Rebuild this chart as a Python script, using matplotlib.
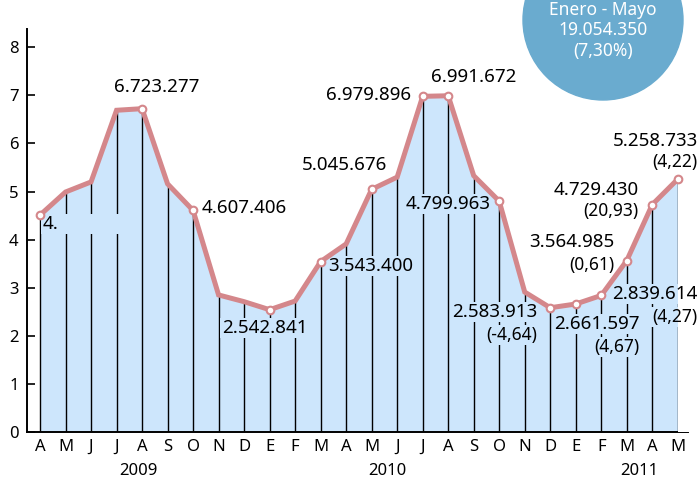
import matplotlib.pyplot as plt
from matplotlib.patches import Ellipse, Rectangle
from matplotlib.transforms import IdentityTransform

plt.rcParams['font.family'] = ['Noto Sans', 'DejaVu Sans']

# Datos (millones), abril 2009 - mayo 2011
meses = ['A', 'M', 'J', 'J', 'A', 'S', 'O', 'N', 'D', 'E', 'F', 'M', 'A',
         'M', 'J', 'J', 'A', 'S', 'O', 'N', 'D', 'E', 'F', 'M', 'A', 'M']
valores = [4.51, 4.99, 5.20, 6.69, 6.723277, 5.16, 4.607406, 2.85, 2.71,
           2.542841, 2.723, 3.5434, 3.911, 5.045676, 5.30, 6.979896,
           6.991672, 5.33, 4.799963, 2.91, 2.583913, 2.661597, 2.839614,
           3.564985, 4.72943, 5.258733]
anios = ['2009', '2010', '2011']
pos_anios = [3.85, 13.6, 23.5]
con_marcador = [0, 4, 6, 9, 11, 13, 15, 16, 18, 20, 21, 22, 23, 24, 25]
# texto de las etiquetas y porcentajes de 2011
etiquetas = {0: '4.', 4: '6.723.277', 6: '4.607.406', 9: '2.542.841',
             11: '3.543.400', 13: '5.045.676', 15: '6.979.896',
             16: '6.991.672', 18: '4.799.963', 20: '2.583.913',
             21: '2.661.597', 22: '2.839.614', 23: '3.564.985',
             24: '4.729.430', 25: '5.258.733'}
porcentajes = {20: '(-4,64)', 21: '(4,67)', 22: '(4,27)', 23: '(0,61)',
               24: '(20,93)', 25: '(4,22)'}
total_texto = ['Enero - Mayo', '19.054.350', '(7,30%)']

azul = '#cde6fc'
rosa = '#d4878b'

fig = plt.figure(figsize=(7, 4.8), dpi=100)
ax = fig.add_axes([27/700, 0.1, 661/700, 403/480])
ax.patch.set_alpha(0)

x = list(range(len(valores)))
ax.fill_between(x, 0, valores, color=azul, lw=0, zorder=1)
ax.vlines(x, 0, valores, color='black', lw=1.0, zorder=2)
# mascara blanca sobre la curva (para que las cajas no salgan del relleno)
ax.fill_between(x, valores, 8.38, color='white', lw=0, zorder=3.2)
ax.axvspan(x[-1], x[-1] + 1, color='white', lw=0, zorder=3.2, clip_on=False)
ax.plot(x, valores, color=rosa, lw=3.6, zorder=4, solid_joinstyle='miter')
ax.plot([x[i] for i in con_marcador], [valores[i] for i in con_marcador],
        ls='none', marker='o', ms=5.5, mfc='white', mec=rosa, mew=1.5, zorder=5)

textos = []


def etiqueta(i, txt, dx, dy, ha, fs, peso):
    t = ax.annotate(txt, (x[i], valores[i]), xytext=(dx, dy), textcoords='offset pixels',
                    ha=ha, va='center', fontsize=fs, fontweight=peso, zorder=3.5,
                    annotation_clip=False)
    textos.append((i, t))


# (dx, dy, ha) en pixeles respecto al punto
offs = {0: (3, -9, 'left'), 4: (15, 22, 'center'), 6: (9, 2, 'left'),
        9: (-5, -18, 'center'), 11: (8, -4, 'left'), 13: (-27, 24, 'center'),
        15: (-12, 1, 'right'), 16: (25, 19, 'center'), 18: (-9, -3, 'right'),
        20: (-13, -4, 'right'), 21: (64, -20, 'right'), 22: (96, 1, 'right'),
        23: (-12, 19, 'right'), 24: (-14, 15, 'right'), 25: (20, 38, 'right')}
for i, txt in etiquetas.items():
    dx, dy, ha = offs[i]
    etiqueta(i, txt, dx, dy, ha, 13.5, 'bold' if i == 25 else 'normal')
    if i in porcentajes:
        dy2 = dy - 23 if i not in (24, 25) else dy - 21
        etiqueta(i, porcentajes[i], dx, dy2, ha, 12.5, 'normal')

ax.set_xlim(-0.51, 25.4)
ax.set_ylim(0, 8.38)
ax.set_yticks(range(0, 9))
ax.set_xticks(x)
ax.set_xticklabels(meses)
ax.tick_params(axis='x', length=0, pad=5, labelsize=12)
ax.tick_params(axis='y', direction='in', length=6, width=1.2, pad=6, labelsize=12)
for s in ['top', 'right']:
    ax.spines[s].set_visible(False)
for s in ['left', 'bottom']:
    ax.spines[s].set_linewidth(1.4)

for a, p in zip(anios, pos_anios):
    ax.text(p, -0.098, a, transform=ax.get_xaxis_transform(), ha='center',
            va='center', fontsize=12)

# cajas azules detras de las etiquetas que cortan las lineas verticales
fig.canvas.draw()
for i, t in textos:
    bb = t.get_window_extent()
    w = bb.width if i != 0 else 77
    ax.add_patch(Rectangle((bb.x0 - 2, bb.y0 - 1), w + 4, bb.height + 2, fc=azul,
                           ec='none', transform=IdentityTransform(), zorder=3,
                           clip_on=False))

# circulo con el total
fig.add_artist(Ellipse((603/700, 1 - 20/480), 160/700, 160/480, color='#6aabcf',
                       transform=fig.transFigure, zorder=5))
for t, yy in zip(total_texto, [10, 30, 51]):
    fig.text(603/700, 1 - yy/480, t, ha='center', va='center', color='white',
             fontsize=12.5, fontweight='bold', zorder=6)

plt.savefig('out.png', dpi=100)
